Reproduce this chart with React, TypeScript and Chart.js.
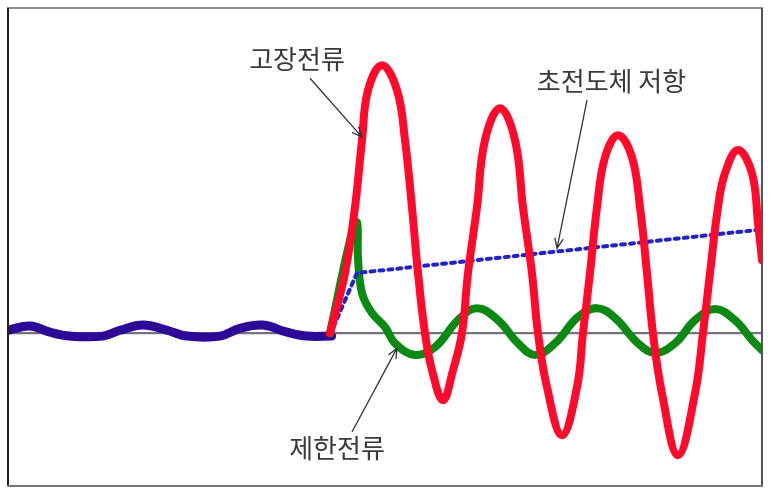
import React, { useEffect, useRef } from "react";
import { Chart, registerables } from "chart.js";

Chart.register(...registerables);

// time axis (ms) and current axis (arbitrary units)
const X_MIN = 0;
const X_MAX = 106;
const Y_MIN = -4.7;
const Y_MAX = 10;

// pre-fault (normal) current
const normalT = [0, 3.09, 5.9, 8.72, 13.36, 15.75, 18.98, 22.35, 25.16, 29.8, 32.61, 35.85, 39.22, 42.03, 45.5];
const normalI = [0.09, 0.22, 0.03, -0.09, -0.09, 0.09, 0.25, 0.09, -0.09, -0.09, 0.15, 0.25, 0.03, -0.09, -0.09];

// prospective fault current (고장전류)
const faultT = [45.27, 47.38, 48.78, 49.77, 50.61, 52.58, 54.69, 55.81, 56.79, 57.64, 58.62, 59.61, 61.15, 62.56, 63.82, 64.67, 65.93, 67.06, 69.17, 71.27, 72.4, 73.66, 74.51, 75.77, 77.88, 79.99, 80.83, 81.82, 82.8, 83.93, 85.75, 87.72, 88.85, 89.83, 90.67, 91.94, 94.19, 96.58, 97.7, 98.69, 99.81, 100.8, 102.62, 104.59, 105.44, 106.0, 106.56];
const faultI = [0, 1.85, 3.87, 5.94, 7.47, 8.24, 7.47, 5.94, 3.87, 1.85, 0, -1.14, -2.06, -1.14, 0, 1.85, 3.87, 5.94, 6.92, 5.94, 3.87, 1.85, 0, -1.66, -3.14, -1.66, 0, 1.85, 3.87, 5.41, 6.09, 5.41, 3.87, 1.85, 0, -1.85, -3.75, -1.85, 0, 1.85, 3.87, 4.92, 5.63, 4.92, 3.38, 2.25, 1.02];

// limited current (제한전류)
const limitedT = [45.27, 48.08, 49.06, 49.2, 49.77, 51.17, 53.0, 54.4, 57.22, 60.03, 63.26, 65.93, 68.88, 71.7, 74.09, 76.9, 80.13, 82.8, 85.33, 88.57, 90.96, 93.77, 96.58, 99.39, 102.2, 104.59, 106.0];
const limitedI = [0, 2.86, 3.41, 2.33, 1.23, 0.62, 0.19, -0.31, -0.67, -0.43, 0.4, 0.77, 0.4, -0.31, -0.67, -0.31, 0.5, 0.77, 0.47, -0.31, -0.61, -0.31, 0.4, 0.74, 0.4, -0.21, -0.52];

// superconductor resistance (초전도체 저항)
const resistT = [45.27, 49.06, 106];
const resistR = [-0.05, 1.85, 3.19];

// zero reference line
const zeroT = [0, 106];
const zeroV = [0, 0];

// annotations
const noteText = ["고장전류", "초전도체 저항", "제한전류"];
const noteX = [40.63, 84.84, 46.25];
const noteY = [8.44, 7.75, -3.52];
const arrowFromX = [42.46, 81.4, 48.36];
const arrowFromY = [7.84, 7.17, -3.04];
const arrowToX = [49.77, 77.18, 54.69];
const arrowToY = [6.03, 2.61, -0.46];

const pts = (xs: number[], ys: number[]) => xs.map((x, i) => ({ x, y: ys[i] }));

const overlayPlugin = {
  id: "overlay",
  afterDatasetsDraw(chart: any) {
    const ctx = chart.ctx;
    const xs = chart.scales.x;
    const ys = chart.scales.y;
    ctx.save();
    ctx.fillStyle = "#3a3a3a";
    ctx.strokeStyle = "#333333";
    ctx.font = "26px 'Noto Sans CJK KR', sans-serif";
    ctx.textAlign = "center";
    ctx.textBaseline = "middle";
    for (let i = 0; i < noteText.length; i++) {
      ctx.fillText(noteText[i], xs.getPixelForValue(noteX[i]), ys.getPixelForValue(noteY[i]));
      const x1 = xs.getPixelForValue(arrowFromX[i]);
      const y1 = ys.getPixelForValue(arrowFromY[i]);
      const x2 = xs.getPixelForValue(arrowToX[i]);
      const y2 = ys.getPixelForValue(arrowToY[i]);
      ctx.lineWidth = 1.3;
      ctx.beginPath();
      ctx.moveTo(x1, y1);
      ctx.lineTo(x2, y2);
      const a = Math.atan2(y2 - y1, x2 - x1);
      const L = 11;
      ctx.moveTo(x2 - L * Math.cos(a - 0.4), y2 - L * Math.sin(a - 0.4));
      ctx.lineTo(x2, y2);
      ctx.lineTo(x2 - L * Math.cos(a + 0.4), y2 - L * Math.sin(a + 0.4));
      ctx.stroke();
    }
    ctx.restore();
  },
  afterDraw(chart: any) {
    const ctx = chart.ctx;
    const { left, top, right, bottom } = chart.chartArea;
    ctx.save();
    ctx.lineWidth = 2;
    ctx.strokeStyle = "#8c8c8c";
    ctx.beginPath();
    ctx.moveTo(left - 1, top);
    ctx.lineTo(right + 1, top);
    ctx.stroke();
    ctx.strokeStyle = "#222222";
    ctx.beginPath();
    ctx.moveTo(left, top);
    ctx.lineTo(left, bottom);
    ctx.stroke();
    ctx.strokeStyle = "#555555";
    ctx.beginPath();
    ctx.moveTo(right, top);
    ctx.lineTo(right, bottom);
    ctx.stroke();
    ctx.strokeStyle = "#777777";
    ctx.beginPath();
    ctx.moveTo(left - 1, bottom);
    ctx.lineTo(right + 1, bottom);
    ctx.stroke();
    ctx.restore();
  },
};

export default function App() {
  const ref = useRef<HTMLCanvasElement | null>(null);
  useEffect(() => {
    if (!ref.current) return;
    const smooth = { pointRadius: 0, fill: false, clip: 0, tension: 0.4 };
    const straight = { pointRadius: 0, fill: false, clip: 0, tension: 0 };
    const chart = new Chart(ref.current, {
      type: "line",
      data: {
        datasets: [
          { label: "고장전류", data: pts(faultT, faultI), borderColor: "#ff0a2a", borderWidth: 8, order: 1, ...smooth },
          { label: "초전도체 저항", data: pts(resistT, resistR), borderColor: "#2222cc", borderWidth: 4, borderDash: [4, 5], order: 2, ...straight },
          { label: "제한전류", data: pts(limitedT, limitedI), borderColor: "#0a8a12", borderWidth: 8, order: 3, ...smooth },
          { label: "정상전류", data: pts(normalT, normalI), borderColor: "#2a0a96", borderWidth: 9, order: 4, ...smooth },
          { label: "기준", data: pts(zeroT, zeroV), borderColor: "#737380", borderWidth: 2.2, order: 5, ...straight },
        ],
      },
      options: {
        responsive: false,
        animation: false,
        parsing: false,
        layout: { padding: { left: 8, top: 8, right: 14, bottom: 14 } },
        scales: {
          x: { type: "linear", min: X_MIN, max: X_MAX, display: false },
          y: { type: "linear", min: Y_MIN, max: Y_MAX, display: false },
        },
        plugins: { legend: { display: false }, tooltip: { enabled: false } },
        elements: { line: { borderCapStyle: "round", borderJoinStyle: "round", capBezierPoints: false } },
      },
      plugins: [overlayPlugin],
    });
    return () => chart.destroy();
  }, []);
  return (
    <div style={{ position: "fixed", left: 0, top: 0, width: 776, height: 500, background: "#ffffff" }}>
      <canvas ref={ref} width={776} height={500} style={{ width: 776, height: 500, display: "block" }} />
    </div>
  );
}
